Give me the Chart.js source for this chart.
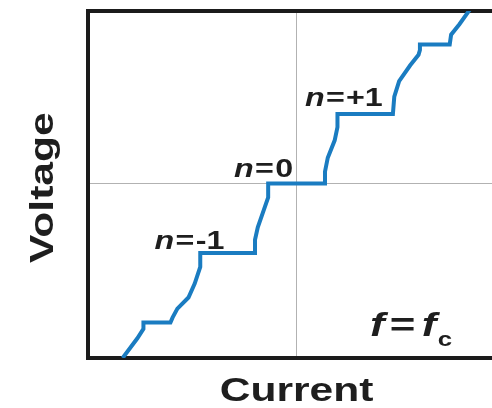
<!DOCTYPE html>
<html>
<head>
<meta charset="utf-8">
<title>Voltage vs current, f = fc</title>
<script src="https://cdn.jsdelivr.net/npm/chart.js@4.4.0/dist/chart.umd.min.js"></script>
<style>
  html, body { margin: 0; padding: 0; background: #fff; overflow: hidden; }
  canvas { display: block; }
</style>
</head>
<body>
<canvas id="ivChart" width="492" height="408"></canvas>
<script>
// I-V curve with microwave steps (arbitrary units, one step = 1)
const currentVals = [
  -2.51, -2.30, -2.21, -2.21, -1.82, -1.79, -1.72, -1.56, -1.47, -1.39, -1.39,
  -0.60, -0.60, -0.56, -0.49, -0.41, -0.41,
  0.41, 0.41, 0.45, 0.55, 0.59, 0.59,
  1.39, 1.41, 1.48, 1.64, 1.76, 1.78, 1.78, 2.21, 2.23, 2.35, 2.50
];
const voltageVals = [
  -2.51, -2.23, -2.09, -2.00, -2.00, -1.93, -1.80, -1.64, -1.44, -1.20, -1.00,
  -1.00, -0.81, -0.63, -0.43, -0.20, 0.00,
  0.00, 0.17, 0.37, 0.62, 0.81, 1.00,
  1.00, 1.25, 1.47, 1.70, 1.85, 1.92, 2.00, 2.00, 2.14, 2.29, 2.50
];
const stepOrders = ['-1', '0', '+1'];
const axisTitles = ['Current', 'Voltage'];

// where the step names sit (data units), kept apart from the data
const stepLabelSpots = [
  { x: -2.05, y: -0.94, align: 'left' },
  { x: -0.05, y: 0.095, align: 'right' },
  { x: 0.12, y: 1.11, align: 'left' }
];

const FONT = '"Liberation Sans", Arial, sans-serif';
const TEXT = '#1e1e1e';
const STRETCH = 1.29; // lettering in the figure is wide

const points = currentVals.map((c, i) => ({ x: c, y: voltageVals[i] }));

function runWidth(ctx, parts) {
  let w = 0;
  parts.forEach(p => {
    ctx.font = p.font;
    w += ctx.measureText(p.text).width + (p.gap || 0);
  });
  return w * STRETCH;
}

function drawRun(ctx, parts, x, y) {
  ctx.save();
  ctx.translate(x, y);
  ctx.scale(STRETCH, 1);
  let cx = 0;
  parts.forEach(p => {
    ctx.font = p.font;
    cx += p.gap || 0;
    ctx.fillText(p.text, cx, p.dy || 0);
    cx += ctx.measureText(p.text).width;
  });
  ctx.restore();
}

const textPlugin = {
  id: 'figureText',
  afterDraw(chart) {
    const ctx = chart.ctx;
    const xs = chart.scales.x;
    const ys = chart.scales.y;
    ctx.save();
    ctx.fillStyle = TEXT;
    ctx.textBaseline = 'alphabetic';
    ctx.textAlign = 'left';

    // step names
    stepOrders.forEach((n, i) => {
      const spot = stepLabelSpots[i];
      const parts = [
        { text: 'n', font: 'italic bold 25px ' + FONT },
        { text: '=', font: 'bold 25px ' + FONT, gap: 1 },
        { text: n, font: 'bold 25px ' + FONT, gap: 1 }
      ];
      let px = xs.getPixelForValue(spot.x);
      if (spot.align === 'right') px -= runWidth(ctx, parts);
      drawRun(ctx, parts, px, ys.getPixelForValue(spot.y));
    });

    // f = fc
    drawRun(ctx, [
      { text: 'f', font: 'italic bold 34px ' + FONT },
      { text: '=', font: 'bold 34px ' + FONT, gap: 4 },
      { text: 'f', font: 'italic bold 34px ' + FONT, gap: 5 },
      { text: 'c', font: 'bold 20px ' + FONT, gap: 1, dy: 10 }
    ], xs.getPixelForValue(1.06), ys.getPixelForValue(-2.19));

    // axis titles
    ctx.font = 'bold 33px ' + FONT;
    ctx.textAlign = 'center';
    ctx.save();
    ctx.translate(xs.getPixelForValue(0), chart.chartArea.bottom + 43);
    ctx.scale(STRETCH, 1);
    ctx.fillText(axisTitles[0], 0, 0);
    ctx.restore();

    ctx.save();
    ctx.translate(chart.chartArea.left - 35, ys.getPixelForValue(-0.06));
    ctx.rotate(-Math.PI / 2);
    ctx.scale(STRETCH, 1);
    ctx.fillText(axisTitles[1], 0, 0);
    ctx.restore();

    ctx.restore();
  }
};

const onlyZero = axis => { axis.ticks = [{ value: 0 }]; };
const frame = { display: true, color: '#1b1b1b', width: 4 };
const midLine = { color: '#b2b2b2', lineWidth: 1, drawTicks: false };

new Chart(document.getElementById('ivChart'), {
  type: 'line',
  data: {
    datasets: [{
      data: points,
      borderColor: '#1a7cc1',
      borderWidth: 4,
      pointRadius: 0,
      tension: 0,
      borderJoinStyle: 'miter',
      fill: false
    }]
  },
  options: {
    responsive: false,
    devicePixelRatio: 1,
    animation: false,
    layout: { padding: 0 },
    plugins: { legend: { display: false }, tooltip: { enabled: false }, title: { display: false } },
    scales: {
      x: {
        type: 'linear',
        position: 'bottom',
        min: -3.01,
        max: 2.82,
        ticks: { display: false },
        grid: midLine,
        border: frame,
        afterBuildTicks: onlyZero,
        afterFit: s => { s.height = 50; }
      },
      xTop: {
        type: 'linear',
        position: 'top',
        min: -3.01,
        max: 2.82,
        ticks: { display: false },
        grid: { drawOnChartArea: false, drawTicks: false },
        border: frame,
        afterBuildTicks: axis => { axis.ticks = []; },
        afterFit: s => { s.height = 11; }
      },
      y: {
        type: 'linear',
        position: 'left',
        min: -2.51,
        max: 2.48,
        ticks: { display: false },
        grid: midLine,
        border: frame,
        afterBuildTicks: onlyZero,
        afterFit: s => { s.width = 88; }
      }
    }
  },
  plugins: [textPlugin]
});
</script>
</body>
</html>
